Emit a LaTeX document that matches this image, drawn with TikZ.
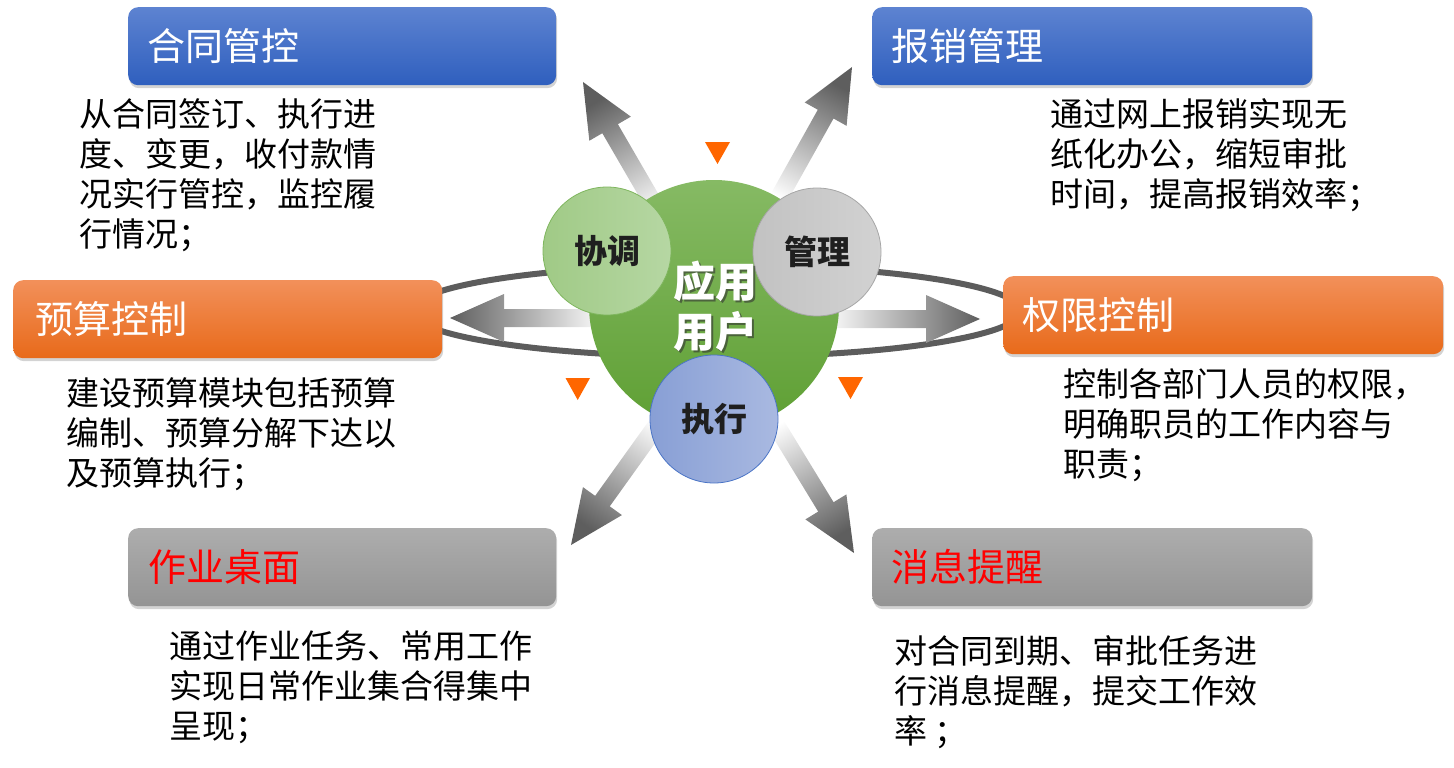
\documentclass[tikz,border=0pt]{standalone}
\usepackage{fontspec}
\setmainfont{Noto Sans CJK SC}
\usetikzlibrary{calc,shadows}
\definecolor{blueT}{HTML}{5D83D1}
\definecolor{blueB}{HTML}{2F5FBE}
\definecolor{orT}{HTML}{F2905A}
\definecolor{orB}{HTML}{E86A1A}
\definecolor{grT}{HTML}{ADADAD}
\definecolor{grB}{HTML}{949494}
\definecolor{ringc}{HTML}{5C5C5C}
\definecolor{arrowdark}{HTML}{5E5E5E}
\definecolor{greenT}{HTML}{86BA64}
\definecolor{greenB}{HTML}{5E9F33}
\definecolor{triorange}{HTML}{FF6600}
\definecolor{xtL}{HTML}{A0CA86}
\definecolor{xtR}{HTML}{B6D7A3}
\definecolor{xtD}{HTML}{7FB65E}
\definecolor{glL}{HTML}{C2C2C2}
\definecolor{glR}{HTML}{D2D2D2}
\definecolor{glD}{HTML}{A6A6A6}
\definecolor{zxL}{HTML}{889FD5}
\definecolor{zxR}{HTML}{A9B9E1}
\definecolor{zxD}{HTML}{4A74C6}
\newcommand\fatarrow[3]{%
  \coordinate (fab) at ($(#2)!54pt!(#1)$);
  \shade[top color=arrowdark, bottom color=white, shading angle=#3]
    ($(#1)!9pt!90:(#2)$) -- ($(fab)!9pt!-90:(#1)$) -- ($(fab)!24pt!-90:(#1)$) -- (#2)
    -- ($(fab)!24pt!90:(#1)$) -- ($(fab)!9pt!90:(#1)$) -- ($(#1)!9pt!-90:(#2)$) -- cycle;}
\tikzset{
  ringline/.style={draw=ringc, line width=6pt},
  tbox/.style={rounded corners=10pt, minimum height=78pt, inner sep=0pt, anchor=north west,
    drop shadow={shadow xshift=1pt, shadow yshift=-3pt, opacity=0.35}},
  bluebox/.style={tbox, top color=blueT, bottom color=blueB},
  orangebox/.style={tbox, top color=orT, bottom color=orB},
  graybox/.style={tbox, top color=grT, bottom color=grB},
  ttext/.style={anchor=west, inner sep=0pt, font=\fontsize{38}{40}\selectfont, text=white},
  body/.style={anchor=north west, inner sep=0pt, align=left, font=\fontsize{33}{40}\selectfont, text=black},
  smallcirc/.style={circle, minimum size=128pt, inner sep=0pt, line width=0.8pt,
    font=\bfseries\fontsize{33}{33}\selectfont, text=black!88},
  tri/.style={fill=triorange}
}
\begin{document}
\begin{tikzpicture}[x=1pt,y=-1pt]
\useasboundingbox (0,0) rectangle (1454,768);
% ring
\draw[ringline] (716,311) ellipse [x radius=305, y radius=46];
% arrows
\coordinate (aulT) at (666,225); \coordinate (aulH) at (583,82);
\coordinate (aurT) at (771.5,211); \coordinate (aurH) at (852,67);
\coordinate (alT) at (605,318); \coordinate (alH) at (450,318);
\coordinate (arT) at (825,319); \coordinate (arH) at (980,319);
\coordinate (adlT) at (667,411); \coordinate (adlH) at (571,545);
\coordinate (adrT) at (768,412); \coordinate (adrH) at (854,553);
\fatarrow{aulT}{aulH}{30.1}
\fatarrow{aurT}{aurH}{-29.2}
\fatarrow{alT}{alH}{90}
\fatarrow{arT}{arH}{-90}
\fatarrow{adlT}{adlH}{144.4}
\fatarrow{adrT}{adrH}{-148.6}
% core
\node[circle, minimum size=250pt, inner sep=0pt, top color=greenT, bottom color=greenB] (core) at (714,305) {};
\node[smallcirc, draw=xtD, left color=xtL, right color=xtR] (xietiao) at (607,251) {协调};
\node[smallcirc, draw=glD, left color=glL, right color=glR] (guanli) at (817,252) {管理};
\node[smallcirc, draw=zxD, left color=zxL, right color=zxR] (zhixing) at (714,419) {执行};
\node[align=center, font=\bfseries\fontsize{42}{50}\selectfont, text=black!80, opacity=0.6] (coreshadow) at (717,308) {应用\\用户};
\node[align=center, font=\bfseries\fontsize{42}{50}\selectfont, text=white] (coretext) at (715,306) {应用\\用户};
% triangles
\fill[tri] (705,142) -- (730,142) -- (717.5,164) -- cycle;
\fill[tri] (565.5,378) -- (590,378) -- (577.7,400) -- cycle;
\fill[tri] (838,377) -- (863,377) -- (850.5,399) -- cycle;
% boxes
\node[bluebox, minimum width=428pt] (hetongbox) at (128,7) {};
\node[ttext] (hetong) at ($(hetongbox.west)+(19,0)$) {合同管控};
\node[bluebox, minimum width=440pt] (baoxiaobox) at (872,7) {};
\node[ttext] (baoxiao) at ($(baoxiaobox.west)+(19,0)$) {报销管理};
\node[orangebox, minimum width=429pt] (yusuanbox) at (13,280) {};
\node[ttext] (yusuan) at ($(yusuanbox.west)+(22,0)$) {预算控制};
\node[orangebox, minimum width=440pt] (quanxianbox) at (1003,276) {};
\node[ttext] (quanxian) at ($(quanxianbox.west)+(19,0)$) {权限控制};
\node[graybox, minimum width=428pt] (zuoyebox) at (128,528) {};
\node[ttext, text=red] (zuoye) at ($(zuoyebox.west)+(20,0)$) {作业桌面};
\node[graybox, minimum width=440pt] (xiaoxibox) at (872,528) {};
\node[ttext, text=red] (xiaoxi) at ($(xiaoxibox.west)+(19,0)$) {消息提醒};
% body texts
\node[body] (hetongtxt) at (79,98) {从合同签订、执行进\\度、变更，收付款情\\况实行管控，监控履\\行情况；};
\node[body] (baoxiaotxt) at (1050,98) {通过网上报销实现无\\纸化办公，缩短审批\\时间，提高报销效率；};
\node[body] (yusuantxt) at (66,377) {建设预算模块包括预算\\编制、预算分解下达以\\及预算执行；};
\node[body] (quanxiantxt) at (1063,368) {控制各部门人员的权限，\\明确职员的工作内容与\\职责；};
\node[body] (zuoyetxt) at (169,631) {通过作业任务、常用工作\\实现日常作业集合得集中\\呈现；};
\node[body] (xiaoxitxt) at (894,635) {对合同到期、审批任务进\\行消息提醒，提交工作效\\率 ；};
\end{tikzpicture}
\end{document}
